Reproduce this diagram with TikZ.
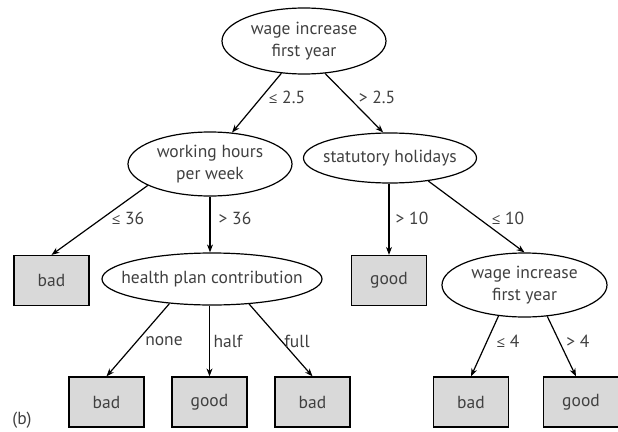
\documentclass[tikz,border=0pt]{standalone}
\usepackage{fontspec}
\setmainfont{PT Sans}
\newfontfamily\symf{Open Sans}
\newcommand{\leqsym}{{\symf\fontsize{15}{21}\selectfont ≤}}
\usetikzlibrary{arrows.meta,shapes.geometric}
\definecolor{txt}{HTML}{404040}
\definecolor{leaf}{HTML}{D9D9D9}
\tikzset{
  x=1pt, y=-1pt,
  every node/.style={font=\fontsize{17.5}{22}\selectfont, text=txt},
  test/.style={ellipse, draw=black, line width=1.2pt, inner xsep=-20pt, inner ysep=-15pt, align=center},
  leafbox/.style={rectangle, draw=black, line width=1.2pt, fill=leaf,
                  minimum width=75pt, minimum height=50pt, inner sep=0pt},
  edge/.style={draw=black, line width=1.2pt, -{Stealth[length=8pt,width=6pt]}},
  lbl/.style={inner sep=0pt}
}
\begin{document}
\begin{tikzpicture}
\useasboundingbox (0,0) rectangle (618,431);
% internal nodes
\node[test, minimum width=164pt, minimum height=66pt] (root) at (304,41) {wage increase\\first year};
\node[test, minimum width=164pt, minimum height=64pt] (wh) at (210,164) {working hours\\per week};
\node[test, minimum width=173pt, minimum height=50pt] (sh) at (390,158) {statutory holidays};
\node[test, minimum width=220pt, minimum height=52pt] (hp) at (212,279) {health plan contribution};
\node[test, minimum width=165pt, minimum height=64pt] (wi2) at (524.5,285) {wage increase\\first year};
% leaves
\node[leafbox] (bad0) at (51.5,280.5) {bad};
\node[leafbox] (good0) at (389,280.5) {good};
\node[leafbox] (bad1) at (106.5,402) {bad};
\node[leafbox] (good1) at (209.5,402) {good};
\node[leafbox] (bad2) at (312.5,402) {bad};
\node[leafbox] (bad3) at (471,402) {bad};
\node[leafbox] (good2) at (581,402) {good};
% connectors
\draw[edge] (root.235) -- (wh.55);
\draw[edge] (root.303) -- (sh.105);
\draw[edge] (wh.199) -- (bad0.north);
\draw[edge] (wh.south) -- (wh.south |- hp.north);
\draw[edge] (sh.south -| good0.north) -- (good0.north);
\draw[edge] (sh.329) -- (wi2.north);
\draw[edge] (hp.210) -- (bad1.north);
\draw[edge] (good1.north |- hp.south) -- (good1.north);
\draw[edge] (hp.326) -- (bad2.north);
\draw[edge] (wi2.230) -- (bad3.north);
\coordinate (g2in) at ([xshift=-5pt]good2.north);
\draw[edge] (wi2.306) -- (g2in);
% labels
\node[lbl] (l1) at (287,97) {\leqsym\ 2.5};
\node[lbl] (l2) at (377,97) {> 2.5};
\node[lbl] (l3) at (128,218) {\leqsym\ 36};
\node[lbl] (l4) at (235,218) {> 36};
\node[lbl] (l5) at (412,218) {> 10};
\node[lbl] (l6) at (508,218) {\leqsym\ 10};
\node[lbl] (l7) at (164,341) {none};
\node[lbl] (l8) at (228,341) {half};
\node[lbl] (l9) at (297,341) {full};
\node[lbl] (l10) at (508,341) {\leqsym\ 4};
\node[lbl] (l11) at (578,341) {> 4};
\node[lbl] (lb) at (22,420) {(b)};
\end{tikzpicture}
\end{document}
